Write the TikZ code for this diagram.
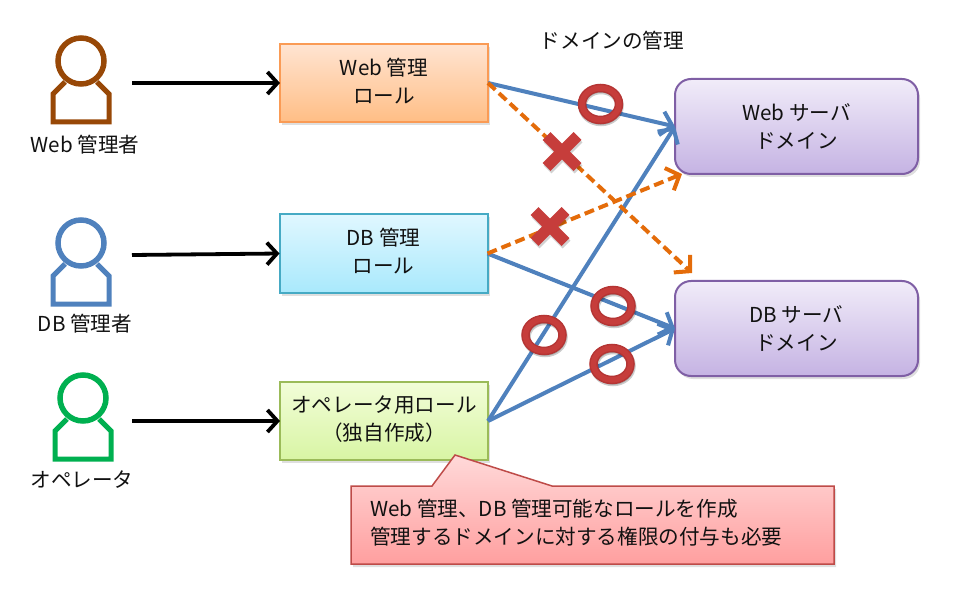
\documentclass[tikz,border=0pt]{standalone}
\usepackage{fontspec}
\setmainfont{Noto Sans CJK JP}
\usetikzlibrary{arrows.meta,positioning,calc,shapes.geometric,shapes.misc,shadows}
\definecolor{ink}{HTML}{111111}
\definecolor{brownp}{HTML}{984807}
\definecolor{bluep}{HTML}{4F81BD}
\definecolor{greenp}{HTML}{00B050}
\definecolor{orline}{HTML}{E46C0A}
\definecolor{markred}{HTML}{C63D3B}
\definecolor{markdark}{HTML}{B53534}
\definecolor{purpleline}{HTML}{7F5FA5}
\definecolor{purpletop}{HTML}{F1ECF9}
\definecolor{purplebot}{HTML}{C5B3E3}
\tikzset{
  softshadow/.style={drop shadow={shadow xshift=2pt,shadow yshift=-3pt,opacity=.25}},
  rolebox/.style={draw,line width=2,outer sep=0,minimum width=208,minimum height=78,softshadow},
  rolelabel/.style={align=center,yshift=2pt},
  domainbox/.style={draw=purpleline,line width=2,rounded corners=16,outer sep=0,
    minimum width=243,minimum height=95,align=center,top color=purpletop,
    bottom color=purplebot,softshadow},
  personnode/.style={inner sep=0,outer sep=0,minimum width=102,minimum height=90},
  person/.pic={
    \draw[line width=5,miter limit=4] (-16,21) -- (-28,33) -- (-28,61) -- (28,61) -- (28,33) -- (16,21);
    \draw[line width=5.5] (0,0) circle (23);
  },
  adminline/.style={line width=3.8,-{Straight Barb[length=10,width=22]}},
  allowline/.style={line width=4,bluep,-{Straight Barb[length=11,width=24]}},
  denyline/.style={line width=4,orline,dash pattern=on 10pt off 5pt,-{Straight Barb[length=11,width=24]}},
  okmark/.style={ellipse,draw=markdark,double=markred,line width=1.5,double distance=5.5,
    minimum width=37,minimum height=32,inner sep=0},
  ngmark/.style={cross out,draw=markred,line width=11,minimum size=20,inner sep=0},
  marksoft/.style={opacity=.2,draw=black,double=black},
}
\begin{document}
\begin{tikzpicture}[x=1pt,y=-1pt,font=\fontsize{20.6}{28}\selectfont,text=ink]
  \useasboundingbox (0,0) rectangle (957,601);
  % people
  \pic[color=brownp] at (81,61) {person};
  \pic[color=bluep] at (81,243) {person};
  \pic[color=greenp] at (83,398) {person};
  \node[personnode] (webadmin) at (81,83) {};
  \node[personnode] (dbadmin) at (81,255) {};
  \node[personnode] (opadmin) at (81,421) {};
  \node (webadminlabel) at (85,145) {Web 管理者};
  \node (dbadminlabel) at (85,324) {DB 管理者};
  \node (opadminlabel) at (82,480) {オペレータ};
  % roles
  \node[rolebox,draw={rgb,255:red,250;green,155;blue,85},top color={rgb,255:red,255;green,228;blue,210},bottom color={rgb,255:red,255;green,190;blue,133},label={[rolelabel]center:Web 管理\\ロール}] (webrole) at (384,83) {};
  \node[rolebox,draw={rgb,255:red,70;green,170;blue,196},top color={rgb,255:red,224;green,247;blue,255},bottom color={rgb,255:red,169;green,233;blue,252},label={[rolelabel]center:DB 管理\\ロール}] (dbrole) at (383.5,253.5) {};
  \node[rolebox,draw={rgb,255:red,155;green,187;blue,89},top color={rgb,255:red,242;green,253;blue,216},bottom color={rgb,255:red,216;green,245;blue,164},label={[rolelabel]center:オペレータ用ロール\\（独自作成）}] (oprole) at (384,421) {};
  % domains
  \node (domaintitle) at (612,41) {ドメインの管理};
  \node[domainbox] (webdomain) at (796.5,126.5) {Web サーバ\\ドメイン};
  \node[domainbox] (dbdomain) at (796.5,328.5) {DB サーバ\\ドメイン};
  % connectors
  \draw[adminline] (webadmin.east) -- (webrole.west);
  \draw[adminline] (dbadmin.east) -- (dbrole.west);
  \draw[adminline] (opadmin.east) -- (oprole.west);
  \draw[allowline] (webrole.east) -- (webdomain.west);
  \draw[allowline] (dbrole.east) -- (dbdomain.west);
  \draw[allowline] (oprole.east) -- (webdomain.west);
  \draw[allowline] (oprole.east) -- (dbdomain.west);
  \draw[denyline] (webrole.east) -- ([shift={(17,-8)}]dbdomain.north west);
  \draw[denyline] (dbrole.east) -- ([xshift=7pt]webdomain.south west);
  % marks
  \node[okmark,marksoft] at (601,106) {};
  \node[okmark] (okweb) at (600.5,104) {};
  \node[okmark,marksoft] at (614,308) {};
  \node[okmark] (okdb) at (613,306) {};
  \node[okmark,marksoft] at (613,366) {};
  \node[okmark] (okopdb) at (612,364) {};
  \node[okmark,marksoft] at (545,337) {};
  \node[okmark] (okopweb) at (544,335) {};
  \node[ngmark,draw=black,opacity=.18] at (563,154) {};
  \node[ngmark] (ngweb) at (562,151.5) {};
  \node[ngmark,draw=black,opacity=.18] at (551,229) {};
  \node[ngmark] (ngdb) at (550,226.5) {};
  % note
  \path[draw={rgb,255:red,190;green,75;blue,72},line width=1.5,top color={rgb,255:red,255;green,217;blue,217},bottom color={rgb,255:red,255;green,159;blue,159},softshadow]
    (351,486) -- (432,486) -- (455,455) -- (552,486) -- (834,486) -- (834,564) -- (351,564) -- cycle;
  \node[align=left,anchor=west,inner sep=0] (opnote) at (370,523) {Web 管理、DB 管理可能なロールを作成\\管理するドメインに対する権限の付与も必要};
\end{tikzpicture}
\end{document}
